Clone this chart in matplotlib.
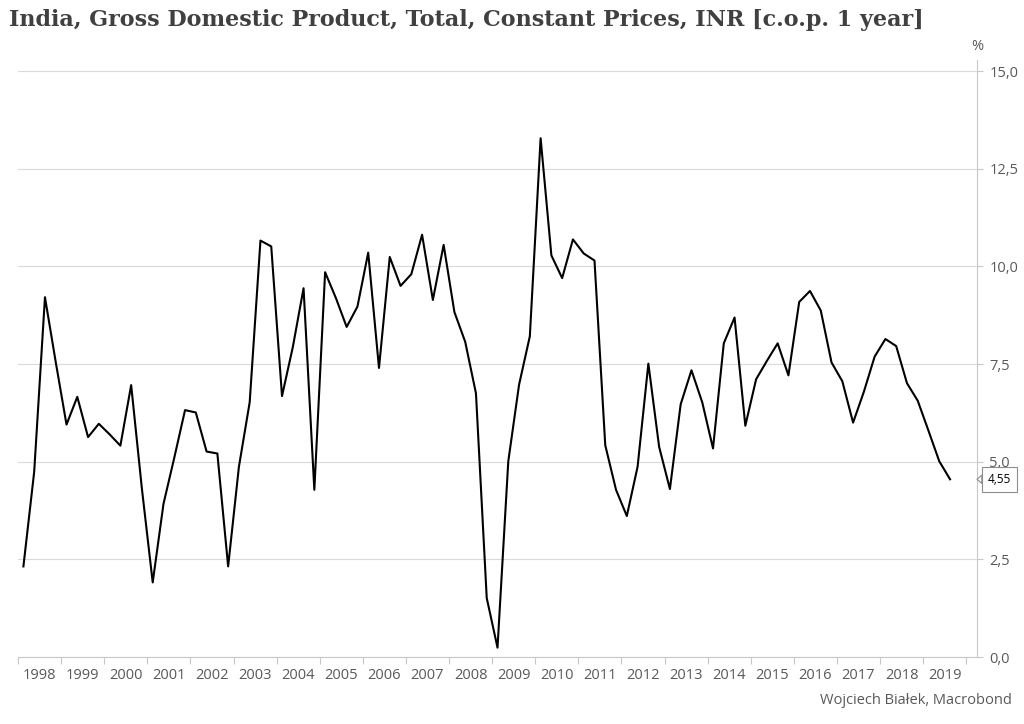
import numpy as np
import matplotlib
matplotlib.use("Agg")
import matplotlib.pyplot as plt
from matplotlib.ticker import FixedLocator, FuncFormatter, NullFormatter

# India GDP, constant prices, % y/y, quarterly 1998Q1 - 2019Q3
start_year = 1998
gdp_yoy = [
    2.32, 4.74, 9.21, 7.55,   # 1998
    5.95, 6.66, 5.63, 5.97,   # 1999
    5.70, 5.41, 6.96, 4.30,   # 2000
    1.91, 3.92, 5.10, 6.32,   # 2001
    6.26, 5.26, 5.21, 2.32,   # 2002
    4.87, 6.52, 10.66, 10.51,  # 2003
    6.68, 7.93, 9.44, 4.28,   # 2004
    9.85, 9.19, 8.45, 8.97,   # 2005
    10.35, 7.40, 10.24, 9.50,  # 2006
    9.80, 10.81, 9.14, 10.55,  # 2007
    8.83, 8.07, 6.75, 1.51,   # 2008
    0.24, 5.01, 6.97, 8.21,   # 2009
    13.28, 10.28, 9.70, 10.69,  # 2010
    10.33, 10.15, 5.42, 4.28,  # 2011
    3.61, 4.87, 7.51, 5.38,   # 2012
    4.30, 6.47, 7.34, 6.52,   # 2013
    5.34, 8.03, 8.69, 5.92,   # 2014
    7.11, 7.58, 8.03, 7.21,   # 2015
    9.09, 9.37, 8.87, 7.54,   # 2016
    7.06, 6.00, 6.79, 7.69,   # 2017
    8.14, 7.96, 7.01, 6.56,   # 2018
    5.79, 5.01, 4.55,         # 2019
]
years = list(range(1998, 2020))
y_ticks = [0.0, 2.5, 5.0, 7.5, 10.0, 12.5, 15.0]
last_label = "4,55"

title = "India, Gross Domestic Product, Total, Constant Prices, INR [c.o.p. 1 year]"
source = "Wojciech Białek, Macrobond"

# quarter midpoints as fractional years
x = start_year + (np.arange(len(gdp_yoy)) + 0.5) / 4.0

grey = "#595959"
grid_c = "#dadada"
axis_c = "#c8c8c8"

fig = plt.figure(figsize=(10.24, 7.24), dpi=100)
ax = fig.add_axes([0.0176, 0.0925, 0.9365, 0.8245])

ax.plot(x, gdp_yoy, color="black", lw=1.5, zorder=3)

''' axes limits and ticks '''
ax.set_xlim(1998, 2020.25)
ax.set_ylim(0, 15.28)

ax.xaxis.set_major_locator(FixedLocator(years + [2020]))
ax.xaxis.set_major_formatter(NullFormatter())
ax.xaxis.set_minor_locator(FixedLocator([yr + 0.5 for yr in years]))
ax.xaxis.set_minor_formatter(FuncFormatter(lambda v, p: str(int(v))))
ax.tick_params(axis="x", which="major", length=5, width=0.8, color=axis_c, direction="out")
ax.tick_params(axis="x", which="minor", length=0, pad=8, labelsize=10.5, labelcolor=grey)

ax.yaxis.tick_right()
ax.set_yticks(y_ticks)
ax.yaxis.set_major_formatter(FuncFormatter(lambda v, p: ("%.1f" % v).replace(".", ",")))
ax.tick_params(axis="y", length=4, width=0.8, color=axis_c, pad=5, labelsize=10.5, labelcolor=grey)

ax.grid(axis="y", color=grid_c, lw=0.8)
for s in ["top", "left"]:
    ax.spines[s].set_visible(False)
ax.spines["right"].set_color(axis_c)
ax.spines["bottom"].set_color(axis_c)
ax.spines["right"].set_linewidth(0.8)
ax.spines["bottom"].set_linewidth(0.8)

''' unit label and last value tag '''
ax.text(1.0, 1.01, "%", transform=ax.transAxes, ha="center", va="bottom",
        fontsize=10.5, color=grey, family="Open Sans")
ax.annotate(last_label, xy=(1.0, gdp_yoy[-1]), xycoords=("axes fraction", "data"),
            xytext=(8, 0), textcoords="offset points", ha="left", va="center",
            fontsize=8.5, color="black", family="Open Sans",
            bbox=dict(boxstyle="square,pad=0.5", fc="white", ec="#8c8c8c", lw=0.8),
            arrowprops=dict(arrowstyle="wedge,tail_width=0.7,shrink_factor=0.5",
                            fc="white", ec="#8c8c8c", lw=0.8, shrinkA=0, shrinkB=0),
            annotation_clip=False, zorder=5)

for lab in ax.get_xticklabels(minor=True) + ax.get_yticklabels():
    lab.set_family("Open Sans")

fig.text(0.009, 0.972, title, ha="left", va="center", fontsize=16,
         fontweight="bold", family="DejaVu Serif", color="#404040")
fig.text(0.988, 0.033, source, ha="right", va="center", fontsize=10.5,
         color=grey, family="Open Sans")

fig.savefig("out.png", dpi=100)
